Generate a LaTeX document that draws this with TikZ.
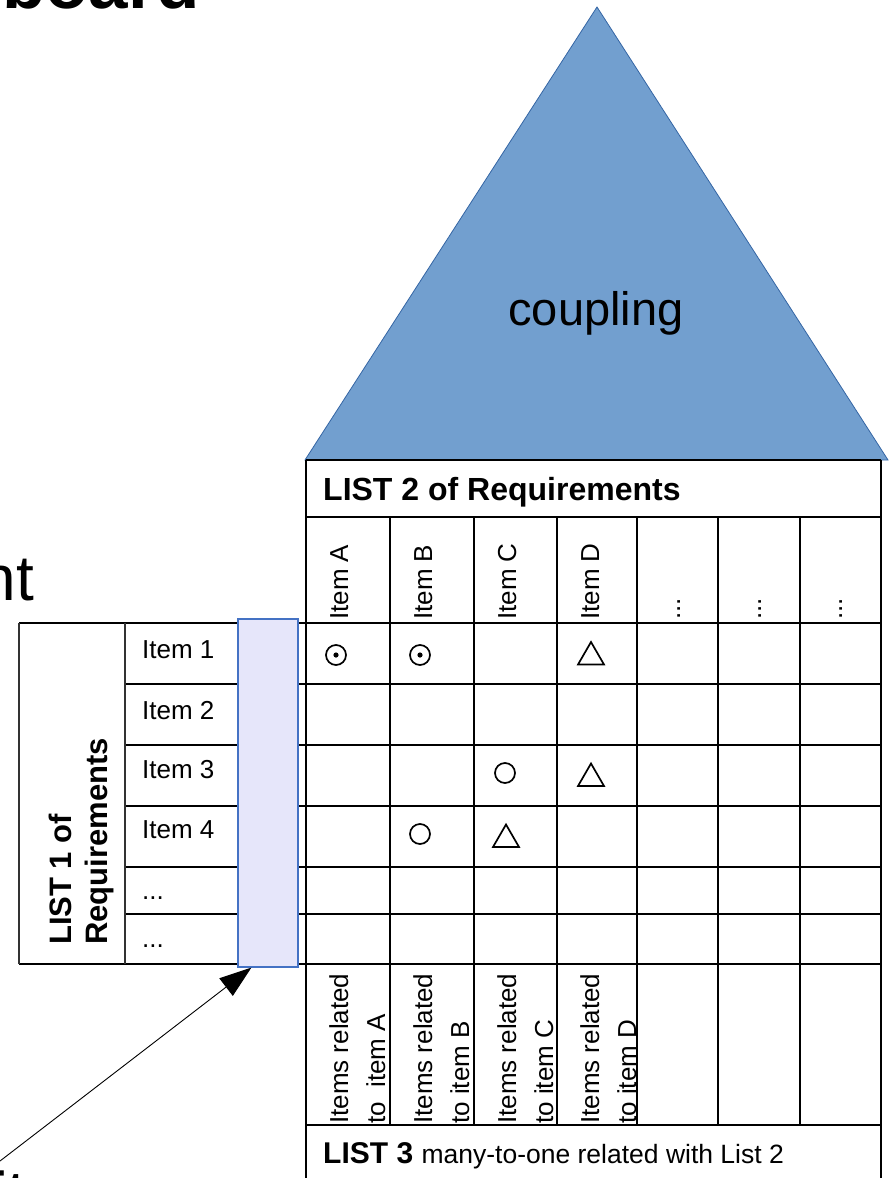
\documentclass[tikz,border=0pt]{standalone}
\usepackage{fontspec}
\setmainfont{Liberation Sans}
\usetikzlibrary{arrows.meta,shapes.geometric}
\definecolor{roof}{HTML}{729FCF}
\definecolor{roofedge}{HTML}{3465A4}
\definecolor{selfill}{HTML}{E6E6FA}
\definecolor{seledge}{HTML}{4472C4}
\tikzset{
  gridline/.style={line width=2pt, black},
  lgridline/.style={line width=2pt, black!80},
  itemtxt/.style={font=\fontsize{26}{31}\selectfont, inner sep=0pt, anchor=base west},
  rottxt/.style={itemtxt, rotate=90},
  boldhead/.style={font=\fontsize{32}{38}\selectfont\bfseries, inner sep=0pt, anchor=base west},
  list1txt/.style={font=\fontsize{31}{37}\selectfont\bfseries, inner sep=0pt, anchor=base west, rotate=90},
  osym/.style={circle, draw, line width=1.7pt, minimum size=20pt, inner sep=0pt},
  tsym/.style={regular polygon, regular polygon sides=3, draw, line width=1.7pt, minimum size=30pt, inner sep=0pt},
  selbox/.style={draw=seledge, fill=selfill, line width=1.2pt, minimum width=60pt, minimum height=348pt, inner sep=0pt},
  pointer/.style={line width=0.9pt, -{Triangle[length=32pt,width=22pt]}}
}
\begin{document}
\begin{tikzpicture}[x=1pt,y=-1pt]
\useasboundingbox (0,0) rectangle (889,1178);
\clip (0,0) rectangle (889,1178);

% cut-off slide texts
\node[font=\fontsize{71}{80}\selectfont\bfseries, inner sep=0pt, anchor=base west] (title) at (2,8) {board};
\node[font=\fontsize{64}{72}\selectfont, inner sep=0pt, anchor=base east] (nt) at (34,600) {nt};
\node[font=\fontsize{52}{60}\selectfont\bfseries, inner sep=0pt, anchor=base east] (ity) at (54,1208) {ity};

% roof
\path[fill=roof, draw=roofedge, line width=0.8pt] (597,7) -- (888,460) -- (305,460) -- cycle;
\node[font=\fontsize{47}{56}\selectfont, inner sep=0pt, anchor=base] (coupling) at (596,325) {coupling};

% main grid
\foreach \y in {460,517,1125} \draw[gridline] (306,\y) -- (881,\y);
\foreach \y in {623,964} \draw[gridline] (19,\y) -- (881,\y);
\foreach \y in {684,745,806,867,914} \draw[gridline] (125,\y) -- (881,\y);
\foreach \x in {306,881} \draw[gridline] (\x,460) -- (\x,1190);
\foreach \x in {390,474,557,637,718,800} \draw[gridline] (\x,517) -- (\x,1125);
% left table
\draw[lgridline] (19,623) -- (19,964);
\draw[lgridline] (125,623) -- (125,964);

% selection box
\node[selbox] (sel) at (268,793) {};

% LIST 2 header
\node[boldhead] (list2) at (323,500) {LIST 2 of Requirements};
\node[rottxt] (hA) at (348,620) {Item A};
\node[rottxt] (hB) at (432,620) {Item B};
\node[rottxt] (hC) at (516,620) {Item C};
\node[rottxt] (hD) at (599,620) {Item D};
\node[rottxt] (hE) at (680,620) {...};
\node[rottxt] (hF) at (761,620) {...};
\node[rottxt] (hG) at (842,620) {...};

% LIST 1
\node[list1txt] (list1a) at (71,945) {LIST 1 of};
\node[list1txt] (list1b) at (107,945) {Requirements};
\node[itemtxt] (i1) at (142,658) {Item 1};
\node[itemtxt] (i2) at (142,719) {Item 2};
\node[itemtxt] (i3) at (142,778) {Item 3};
\node[itemtxt] (i4) at (142,838) {Item 4};
\node[itemtxt] (i5) at (142,899) {...};
\node[itemtxt] (i6) at (142,947) {...};

% relation symbols
\node[osym] (sA1) at (336,655) {};
\fill (sA1.center) circle (2.6);
\node[osym] (sB1) at (420,655) {};
\fill (sB1.center) circle (2.6);
\node[tsym] (sD1) at (591,657) {};
\node[osym] (sC3) at (505,773) {};
\node[tsym] (sD3) at (591,778.5) {};
\node[osym] (sB4) at (420,834) {};
\node[tsym] (sC4) at (506,839.5) {};

% LIST 3 columns
\node[rottxt] (rA1) at (348,1124) {Items related};
\node[rottxt] (rA2) at (385,1124) {to\ \ item A};
\node[rottxt] (rB1) at (432,1124) {Items related};
\node[rottxt] (rB2) at (469,1124) {to item B};
\node[rottxt] (rC1) at (516,1124) {Items related};
\node[rottxt] (rC2) at (553,1124) {to item C};
\node[rottxt] (rD1) at (599,1124) {Items related};
\node[rottxt] (rD2) at (636,1124) {to item D};

\node[inner sep=0pt, anchor=base west] (list3) at (323,1163)
  {{\fontsize{30}{36}\selectfont\bfseries LIST 3 }{\fontsize{26.5}{32}\selectfont many-to-one related with List 2}};

% pointer
\coordinate (src) at (0,1161);
\draw[pointer] (src) -- ([xshift=14pt]sel.south west);
\end{tikzpicture}
\end{document}
